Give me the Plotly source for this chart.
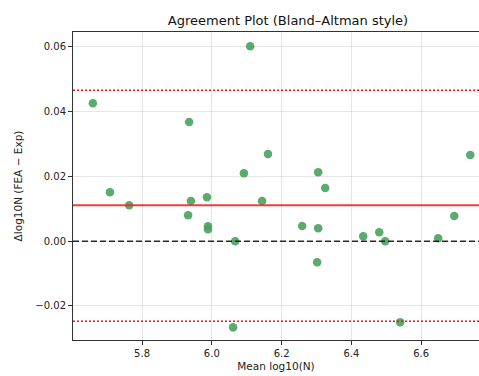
import plotly.graph_objects as go

mean_log10N = [5.659, 5.708, 5.763, 5.935, 5.940, 5.932, 5.986, 5.989, 5.989, 6.067,
               6.061, 6.092, 6.110, 6.144, 6.161, 6.259, 6.305, 6.305, 6.302, 6.325,
               6.434, 6.480, 6.497, 6.540, 6.649, 6.695, 6.741]
diff_log10N = [0.0426, 0.0151, 0.0111, 0.0368, 0.0124, 0.0080, 0.0136, 0.0046, 0.0037, 0.0000,
               -0.0266, 0.0210, 0.0602, 0.0124, 0.0269, 0.0047, 0.0213, 0.0040, -0.0065, 0.0164,
               0.0015, 0.0028, 0.0000, -0.0250, 0.0009, 0.0078, 0.0266]
mean_diff = 0.0111
loa_upper = 0.0466
loa_lower = -0.0247
zero_line = 0.0

x_ticks = [5.8, 6.0, 6.2, 6.4, 6.6]
y_ticks = [-0.02, 0.00, 0.02, 0.04, 0.06]

x_range = [5.602, 6.766]
y_range = [-0.0305, 0.0646]

fig = go.Figure()
fig.add_trace(go.Scatter(
    x=mean_log10N, y=diff_log10N, mode="markers",
    marker=dict(color="rgba(72,162,94,0.9)", size=8.5, line=dict(width=0)),
    showlegend=False, hoverinfo="x+y"))

def hline(y, color, dash, width):
    fig.add_trace(go.Scatter(x=x_range, y=[y, y], mode="lines",
                             line=dict(color=color, dash=dash, width=width),
                             showlegend=False, hoverinfo="skip"))

hline(zero_line, "rgba(20,20,20,0.9)", "6px,3px", 1.6)
hline(mean_diff, "rgba(240,40,40,0.9)", "solid", 1.8)
hline(loa_upper, "rgba(255,0,0,0.95)", "2px,2px", 1.5)
hline(loa_lower, "rgba(255,0,0,0.95)", "2px,2px", 1.5)

font_family = "DejaVu Sans"
fig.update_layout(
    width=479, height=376,
    margin=dict(l=73, r=0, t=32, b=36),
    paper_bgcolor="white", plot_bgcolor="white",
    font=dict(family=font_family, size=10, color="#222"),
    title=dict(text="Agreement Plot (Bland–Altman style)", x=288/479, xref="container",
               xanchor="center", y=1 - 20/376, yref="container", yanchor="middle",
               font=dict(size=13, color="#111", family=font_family)),
    xaxis=dict(range=x_range, tickvals=x_ticks, tickformat=".1f",
               showgrid=True, gridcolor="rgba(200,200,200,0.45)", gridwidth=1,
               showline=True, linecolor="#333", linewidth=1, mirror=True,
               ticks="outside", ticklen=4, tickcolor="#333", zeroline=False,
               title=dict(text="Mean log10(N)", standoff=4, font=dict(size=10.5))),
    yaxis=dict(range=y_range, tickvals=y_ticks, tickformat=".2f",
               showgrid=True, gridcolor="rgba(200,200,200,0.45)", gridwidth=1,
               showline=True, linecolor="#333", linewidth=1, mirror=False,
               ticks="outside", ticklen=4, tickcolor="#333", zeroline=False,
               title=dict(text="Δlog10N (FEA − Exp)", standoff=10, font=dict(size=10.5))),
)

fig.write_html("out.html")
